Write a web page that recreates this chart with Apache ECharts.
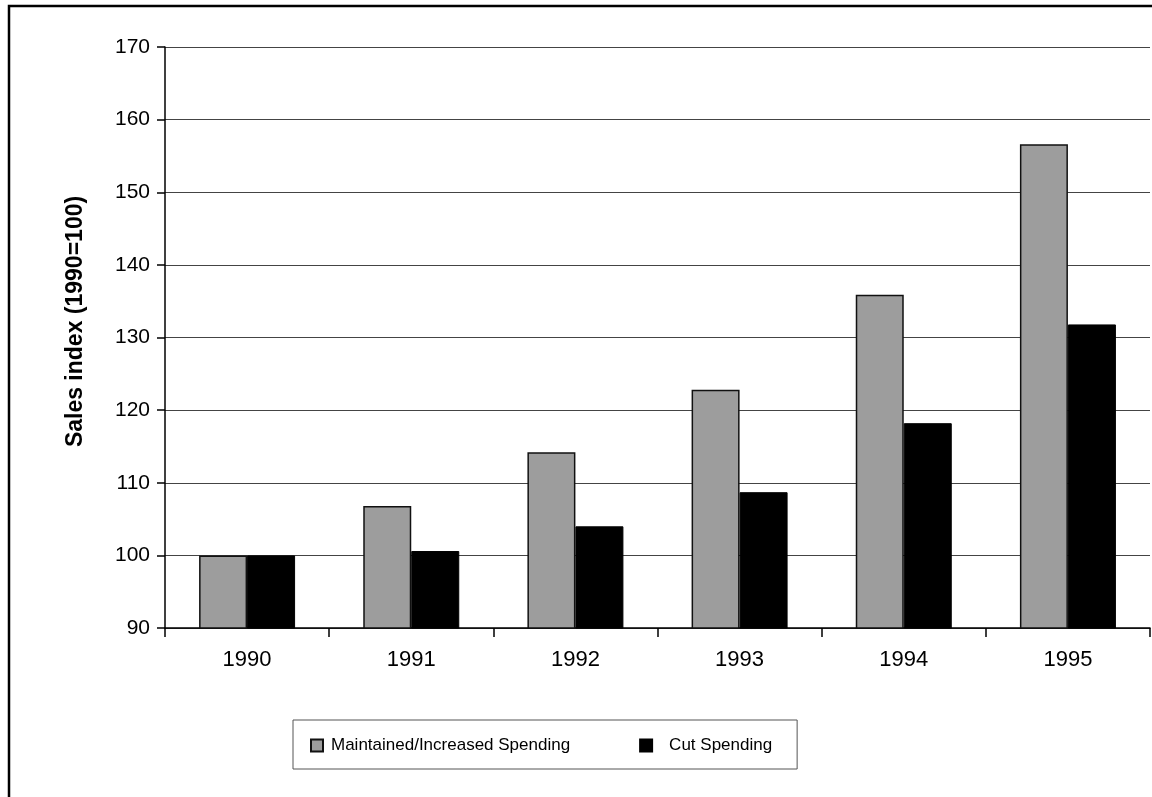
<!DOCTYPE html>
<html>
<head>
<meta charset="utf-8">
<script src="https://cdn.jsdelivr.net/npm/echarts@6/dist/echarts.min.js"></script>
<style>
  html, body { margin: 0; padding: 0; background: #fff; }
  #chart { width: 1152px; height: 797px; }
</style>
</head>
<body>
<div id="chart"></div>
<script>
// data
var years = ['1990', '1991', '1992', '1993', '1994', '1995']
var maintained = [100, 106.8, 114.2, 122.8, 135.9, 156.6]
var cut = [100, 100.6, 104.0, 108.7, 118.2, 131.8]
var seriesNames = ['Maintained/Increased Spending', 'Cut Spending']

var FONT = '"Liberation Sans", Arial, sans-serif'

var chartDom = document.getElementById('chart')
var myChart = echarts.init(chartDom)

let options = {
    animation: false,
    backgroundColor: '#fff',
    grid: {
        left: 165,
        top: 47,
        right: 2,
        bottom: 169,
        containLabel: false
    },
    legend: {
        data: seriesNames,
        left: 293,
        top: 720,
        orient: 'horizontal',
        icon: 'rect',
        borderColor: '#555',
        borderWidth: 1,
        padding: [17, 25, 15, 17],
        itemWidth: 12,
        itemHeight: 12,
        itemGap: 69,
        textStyle: {
            fontFamily: FONT,
            fontSize: 17,
            color: '#000',
            rich: {
                a: { fontFamily: FONT, fontSize: 17, color: '#000', padding: [0, 0, 0, 3] },
                b: { fontFamily: FONT, fontSize: 17, color: '#000', padding: [0, 0, 0, 12] }
            }
        },
        formatter: function (name) {
            return name === 'Cut Spending' ? '{b|' + name + '}' : '{a|' + name + '}'
        }
    },
    xAxis: {
        type: 'category',
        data: years,
        boundaryGap: true,
        axisLine: { lineStyle: { color: '#000', width: 1.5 } },
        axisTick: { show: true, length: 9, lineStyle: { color: '#000', width: 1.5 } },
        axisLabel: {
            margin: 21,
            fontFamily: FONT,
            fontSize: 22,
            color: '#000'
        },
        splitLine: { show: false }
    },
    yAxis: {
        type: 'value',
        min: 90,
        max: 170,
        interval: 10,
        name: 'Sales index (1990=100)',
        nameLocation: 'middle',
        nameGap: 78,
        nameTextStyle: {
            fontFamily: FONT,
            fontSize: 23,
            fontWeight: 'bold',
            color: '#000',
            padding: [0, 0, 0, 32]
        },
        axisLine: { show: true, lineStyle: { color: '#000', width: 1.5 } },
        axisTick: { show: true, length: 8, lineStyle: { color: '#000', width: 1.5 } },
        axisLabel: {
            margin: 15,
            fontFamily: FONT,
            fontSize: 21,
            color: '#000'
        },
        splitLine: { show: true, lineStyle: { color: '#444', width: 1.2 } }
    },
    series: [
        {
            name: seriesNames[0],
            type: 'bar',
            data: maintained,
            barWidth: 48,
            barGap: '0%',
            itemStyle: {
                color: '#9d9d9d',
                borderColor: '#111',
                borderWidth: 1.5
            }
        },
        {
            name: seriesNames[1],
            type: 'bar',
            data: cut,
            barWidth: 48,
            barGap: '0%',
            itemStyle: {
                color: '#000',
                borderColor: '#000',
                borderWidth: 1
            }
        }
    ],
    graphic: [
        {
            type: 'rect',
            shape: { x: 9, y: 6, width: 1300, height: 900 },
            style: { fill: 'none', stroke: '#000', lineWidth: 2.5 },
            silent: true
        }
    ]
}
myChart.setOption(options)
</script>
</body>
</html>
